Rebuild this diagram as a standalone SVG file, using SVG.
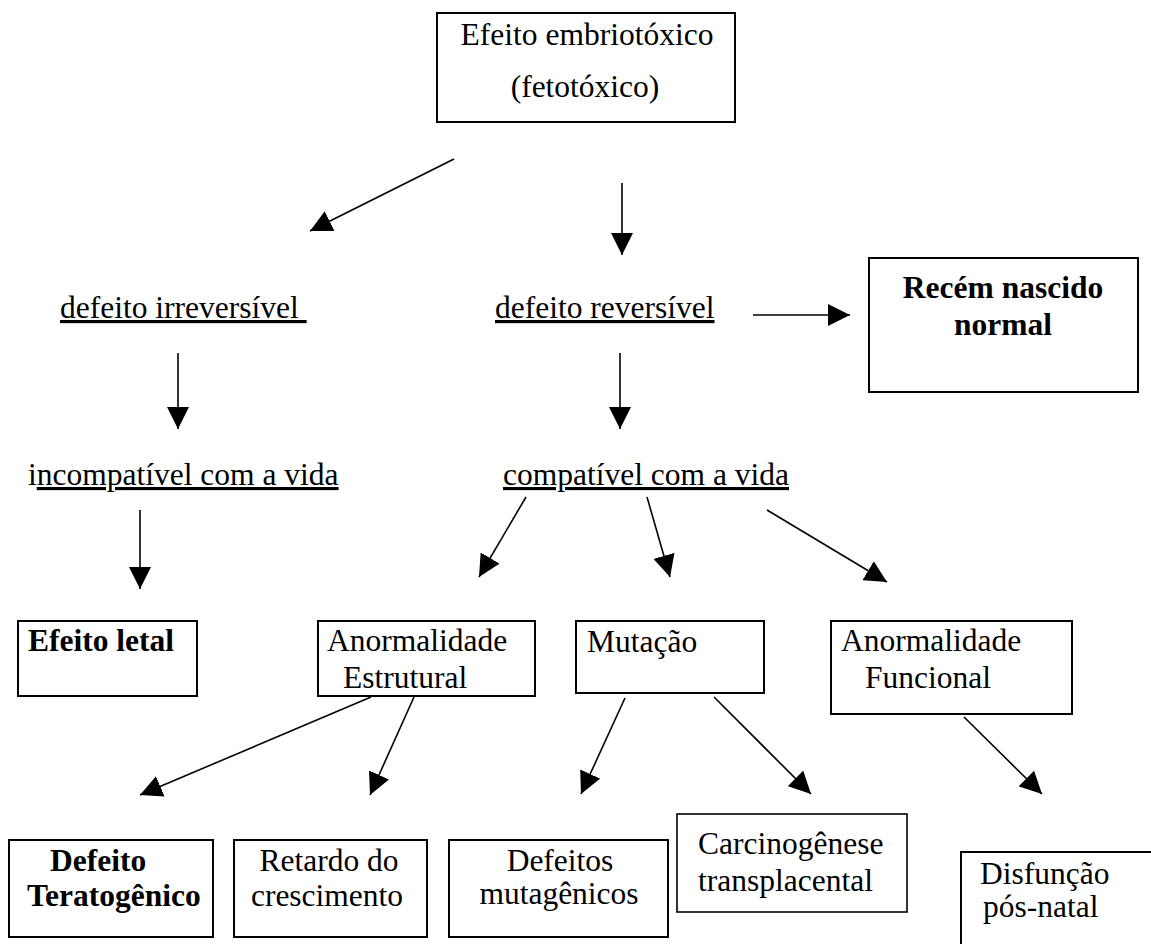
<svg xmlns="http://www.w3.org/2000/svg" width="1151" height="944" viewBox="0 0 1151 944">
<style>
  .box { fill: #fff; stroke: #000; stroke-width: 2; }
  .t { font-family: "Liberation Serif", "Times New Roman", serif; font-size: 31.5px; fill: #000; }
  .b { font-weight: bold; }
  .m { text-anchor: middle; }
  .u { text-decoration: underline; }
  .edge { stroke: #000; stroke-width: 1.6; fill: none; marker-end: url(#ah); }
</style>
<defs>
  <marker id="ah" markerUnits="userSpaceOnUse" markerWidth="22" markerHeight="22" refX="22" refY="11" orient="auto">
    <path d="M0,0 L22,11 L0,22 z" fill="#000"/>
  </marker>
</defs>
<rect width="1151" height="944" fill="#fff"/>

<g id="connectors">
  <line class="edge" x1="454" y1="159" x2="310" y2="231"/>
  <line class="edge" x1="622" y1="183" x2="622" y2="255"/>
  <line class="edge" x1="753" y1="315" x2="850" y2="315"/>
  <line class="edge" x1="178" y1="353" x2="178" y2="429"/>
  <line class="edge" x1="620" y1="353" x2="620" y2="429"/>
  <line class="edge" x1="140" y1="510" x2="140" y2="589"/>
  <line class="edge" x1="526" y1="497" x2="479" y2="577"/>
  <line class="edge" x1="647" y1="497" x2="670" y2="577"/>
  <line class="edge" x1="767" y1="510" x2="887" y2="582"/>
  <line class="edge" x1="371" y1="697" x2="140" y2="795"/>
  <line class="edge" x1="414" y1="697" x2="370" y2="795"/>
  <line class="edge" x1="625" y1="698" x2="581" y2="794"/>
  <line class="edge" x1="714" y1="697" x2="811" y2="794"/>
  <line class="edge" x1="964" y1="717" x2="1042" y2="794"/>
</g>

<g id="n-embriotoxico">
  <rect class="box" x="437" y="13" width="298" height="109"/>
  <text class="t m" x="587" y="45">Efeito embriotóxico</text>
  <text class="t m" x="585" y="97">(fetotóxico)</text>
</g>

<g id="n-irreversivel">
  <text class="t u" style="white-space:pre" x="60" y="318">defeito irreversível </text>
</g>

<g id="n-reversivel">
  <text class="t u" x="495" y="318">defeito reversível</text>
</g>

<g id="n-recem">
  <rect class="box" x="869" y="258" width="269" height="134"/>
  <text class="t b m" x="1003" y="298">Recém nascido</text>
  <text class="t b m" x="1003" y="335">normal</text>
</g>

<g id="n-incompativel">
  <text class="t" x="28" y="485">i<tspan class="u">ncompatível com a vida</tspan></text>
</g>

<g id="n-compativel">
  <text class="t u" x="503" y="485">compatível com a vida</text>
</g>

<g id="n-letal">
  <rect class="box" x="18" y="621" width="179" height="75"/>
  <text class="t b" x="28" y="651">Efeito letal</text>
</g>

<g id="n-estrutural">
  <rect class="box" x="318" y="621" width="217" height="75"/>
  <text class="t" x="327" y="651">Anormalidade</text>
  <text class="t" x="343" y="688">Estrutural</text>
</g>

<g id="n-mutacao">
  <rect class="box" x="576" y="621" width="188" height="72"/>
  <text class="t" x="587" y="652">Mutação</text>
</g>

<g id="n-funcional">
  <rect class="box" x="831" y="621" width="241" height="93"/>
  <text class="t" x="841" y="651">Anormalidade</text>
  <text class="t" x="865" y="688">Funcional</text>
</g>

<g id="n-teratogenico">
  <rect class="box" x="9" y="840" width="204" height="97"/>
  <text class="t b" x="50" y="871">Defeito</text>
  <text class="t b" x="27" y="906">Teratogênico</text>
</g>

<g id="n-retardo">
  <rect class="box" x="234" y="840" width="193" height="97"/>
  <text class="t m" x="329" y="871">Retardo do</text>
  <text class="t m" x="327" y="906">crescimento</text>
</g>

<g id="n-mutagenicos">
  <rect class="box" x="449" y="840" width="219" height="97"/>
  <text class="t m" x="560" y="871">Defeitos</text>
  <text class="t m" x="559" y="904">mutagênicos</text>
</g>

<g id="n-carcinogenese">
  <rect class="box" x="677" y="814" width="230" height="98" style="stroke-width:1.6"/>
  <text class="t" x="698" y="854">Carcinogênese</text>
  <text class="t" x="698" y="891">transplacental</text>
</g>

<g id="n-disfuncao">
  <rect class="box" x="961" y="852" width="230" height="120"/>
  <text class="t" x="980" y="884">Disfunção</text>
  <text class="t" x="983" y="917">pós-natal</text>
</g>
</svg>
